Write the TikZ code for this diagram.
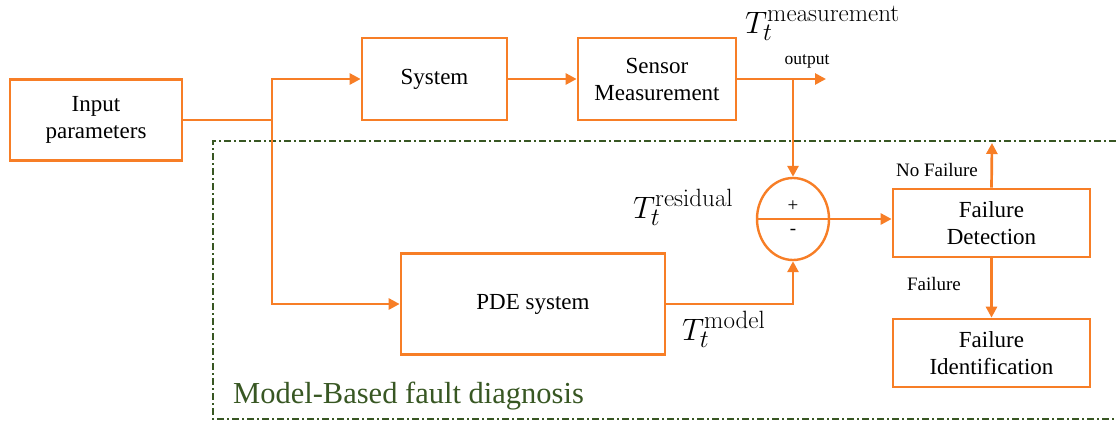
\RequirePackage{fix-cm}
\documentclass[tikz,border=0pt]{standalone}
\usepackage[no-math]{fontspec}
\setmainfont{Liberation Serif}
\usetikzlibrary{arrows.meta,shapes.geometric}
\DeclareMathSizes{31}{31}{25}{18}
\definecolor{boxorange}{RGB}{247,126,38}
\definecolor{modelgreen}{RGB}{56,87,35}
\newcommand{\fs}[2]{\fontsize{#1}{#2}\selectfont}

\begin{document}
\begin{tikzpicture}[x=1pt,y=-1pt,
   block/.style={draw=boxorange,line width=2.7pt,align=center,font=\fs{23}{27},inner sep=0pt},
   flow/.style={draw=boxorange,line width=2.7pt,-{Triangle[length=11pt,width=11pt]}},
   line/.style={draw=boxorange,line width=2.7pt},
   lbl/.style={font=\fs{19}{22},inner sep=0pt},
   mlbl/.style={font=\fs{31}{36},inner sep=0pt,anchor=base west}]
   \useasboundingbox (0,0) rectangle (1116,423);
   % model-based part
   \draw[modelgreen,line width=2pt,dash pattern=on 7pt off 3pt on 2pt off 3pt] (1116,141) -- (213,141) -- (213,419) -- (1116,419);
   \node[anchor=base west,text=modelgreen,font=\fs{30.5}{36},inner sep=0pt] (mbfd) at (233,403) {Model-Based fault diagnosis};
   % blocks
   \node[block,minimum width=172pt,minimum height=81pt] (inp) at (96,120) {Input\\parameters};
   \node[block,minimum width=145pt,minimum height=82pt] (sys) at (434.5,79) {System};
   \node[block,minimum width=158pt,minimum height=82pt] (sens) at (657,79) {Sensor\\Measurement};
   \node[block,minimum width=264pt,minimum height=101pt] (pde) at (533,304) {PDE system};
   \node[block,minimum width=197pt,minimum height=68pt] (fd) at (991.5,223) {Failure\\Detection};
   \node[block,minimum width=197pt,minimum height=68pt] (fi) at (991.5,353) {Failure\\Identification};
   \node[ellipse,draw=boxorange,line width=2.4pt,minimum width=72pt,minimum height=82pt,inner sep=0pt] (sum) at (793,219) {};
   \draw[boxorange,line width=1.3pt] (sum.west) -- (sum.east);
   \node[lbl] (plus) at (793,206) {+};
   \node[lbl] (minus) at (793,232) {-};
   % connectors
   \coordinate (split) at (272,120);
   \coordinate (tap) at (793,79);
   \coordinate (out) at (826,79);
   \coordinate (nofail) at (992,143);
   \draw[line] (inp.east) -- (split);
   \draw[flow] (split) |- (sys.west);
   \draw[flow] (split) |- (pde.west);
   \draw[flow] (sys) -- (sens);
   \draw[flow] (sens.east) -- (out);
   \draw[flow] (tap) -- (sum.north);
   \draw[flow] (pde.east) -| (sum.south);
   \draw[flow] (sum.east) -- (sum.east -| fd.west);
   \draw[flow] (fd.north) -- (nofail);
   \draw[flow] (fd) -- (fi);
   % labels
   \node[mlbl] (tmeas) at (745,33) {$T_t^{\mathrm{measurement}}$};
   \node[lbl,font=\fs{17.5}{20}] (outlbl) at (807,61) {output};
   \node[mlbl] (tres) at (633,218) {$T_t^{\mathrm{residual}}$};
   \node[mlbl] (tmod) at (682,340) {$T_t^{\mathrm{model}}$};
   \node[lbl] (nofaillbl) at (937,170) {No Failure};
   \node[lbl] (faillbl) at (934,284) {Failure};
\end{tikzpicture}
\end{document}
